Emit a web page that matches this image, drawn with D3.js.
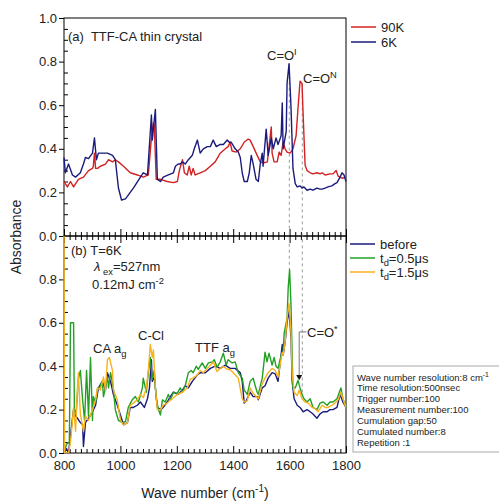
<!DOCTYPE html>
<html>
<head>
<meta charset="utf-8">
<script src="https://cdn.jsdelivr.net/npm/d3@7"></script>
<style>
  body { margin: 0; background: #fff; }
  svg { display: block; font-family: "Liberation Sans", Arial, sans-serif; }
</style>
</head>
<body>
<script>
// ---- data (wave number cm^-1, absorbance) ----
const xMajor = [800, 1000, 1200, 1400, 1600, 1800];
const yMajorTop = [0, 0.2, 0.4, 0.6, 0.8, 1.0];
const yMajorBot = [0, 0.2, 0.4, 0.6, 0.8];

const spec90K = [[800,0.25],[812,0.225],[823,0.25],[834,0.225],[851,0.26],[869,0.27],[887,0.30],[901,0.31],[904,0.32],[908,0.38],[912,0.31],[919,0.31],[929,0.32],[947,0.33],[958,0.35],[972,0.34],[982,0.35],[993,0.34],[1011,0.32],[1035,0.29],[1060,0.28],[1081,0.27],[1099,0.28],[1110,0.45],[1117,0.52],[1120,0.51],[1127,0.26],[1142,0.26],[1166,0.25],[1188,0.245],[1202,0.25],[1209,0.30],[1220,0.35],[1227,0.29],[1237,0.28],[1244,0.32],[1251,0.28],[1258,0.31],[1265,0.28],[1283,0.29],[1301,0.30],[1319,0.32],[1336,0.34],[1354,0.38],[1372,0.40],[1382,0.41],[1389,0.43],[1396,0.39],[1411,0.385],[1425,0.40],[1439,0.43],[1453,0.445],[1460,0.44],[1471,0.41],[1485,0.37],[1496,0.34],[1506,0.335],[1521,0.34],[1528,0.42],[1535,0.50],[1538,0.38],[1545,0.34],[1556,0.34],[1563,0.385],[1570,0.37],[1577,0.43],[1584,0.40],[1591,0.385],[1602,0.38],[1612,0.40],[1623,0.46],[1630,0.59],[1637,0.71],[1644,0.70],[1648,0.555],[1655,0.325],[1662,0.30],[1673,0.29],[1683,0.285],[1697,0.29],[1708,0.285],[1715,0.29],[1726,0.28],[1743,0.285],[1754,0.285],[1765,0.30],[1772,0.275],[1786,0.265],[1800,0.27]];

const spec6K = [[800,0.36],[805,0.29],[816,0.33],[830,0.28],[841,0.27],[858,0.29],[869,0.33],[876,0.36],[887,0.355],[901,0.38],[908,0.45],[915,0.35],[922,0.38],[940,0.38],[954,0.38],[972,0.37],[982,0.35],[993,0.22],[1004,0.165],[1018,0.17],[1046,0.22],[1071,0.27],[1081,0.29],[1096,0.28],[1110,0.555],[1113,0.44],[1124,0.58],[1131,0.26],[1142,0.25],[1152,0.27],[1170,0.28],[1188,0.29],[1195,0.32],[1205,0.33],[1212,0.33],[1220,0.34],[1230,0.33],[1241,0.35],[1255,0.37],[1262,0.40],[1273,0.44],[1283,0.38],[1294,0.40],[1308,0.41],[1319,0.41],[1329,0.44],[1340,0.41],[1354,0.42],[1365,0.42],[1379,0.44],[1386,0.43],[1393,0.43],[1407,0.40],[1418,0.385],[1425,0.36],[1432,0.29],[1439,0.25],[1450,0.25],[1457,0.29],[1464,0.37],[1471,0.33],[1481,0.26],[1489,0.25],[1496,0.33],[1503,0.38],[1506,0.32],[1517,0.49],[1524,0.37],[1535,0.45],[1542,0.40],[1552,0.45],[1559,0.42],[1570,0.46],[1574,0.61],[1577,0.40],[1588,0.48],[1591,0.70],[1598,0.79],[1605,0.59],[1612,0.31],[1620,0.24],[1627,0.225],[1637,0.23],[1644,0.22],[1651,0.225],[1662,0.21],[1673,0.215],[1683,0.21],[1697,0.22],[1708,0.215],[1715,0.215],[1726,0.22],[1736,0.225],[1750,0.23],[1761,0.24],[1768,0.245],[1779,0.27],[1786,0.29],[1793,0.28],[1800,0.25]];

const specBefore = [[800,0.0],[809,0.02],[816,0.0],[830,0.16],[834,0.2],[841,0.17],[848,0.16],[858,0.14],[866,0.13],[869,0.03],[876,0.14],[887,0.16],[901,0.19],[912,0.22],[922,0.30],[936,0.33],[947,0.29],[954,0.37],[965,0.33],[975,0.27],[989,0.22],[1000,0.175],[1011,0.13],[1025,0.14],[1035,0.21],[1046,0.21],[1060,0.22],[1071,0.235],[1085,0.21],[1096,0.25],[1103,0.30],[1110,0.43],[1113,0.33],[1120,0.35],[1131,0.21],[1142,0.20],[1152,0.21],[1166,0.235],[1177,0.26],[1188,0.28],[1205,0.27],[1220,0.29],[1230,0.31],[1241,0.30],[1255,0.33],[1273,0.36],[1283,0.37],[1301,0.37],[1319,0.39],[1336,0.40],[1354,0.39],[1372,0.405],[1389,0.39],[1407,0.39],[1425,0.37],[1432,0.33],[1439,0.23],[1446,0.24],[1460,0.28],[1471,0.26],[1485,0.26],[1489,0.245],[1503,0.30],[1513,0.31],[1524,0.345],[1538,0.37],[1549,0.365],[1559,0.33],[1574,0.50],[1577,0.45],[1584,0.51],[1591,0.60],[1598,0.66],[1605,0.53],[1609,0.33],[1616,0.25],[1627,0.22],[1637,0.21],[1648,0.19],[1662,0.20],[1673,0.19],[1683,0.18],[1697,0.16],[1708,0.18],[1719,0.19],[1733,0.19],[1743,0.20],[1754,0.20],[1768,0.21],[1779,0.27],[1789,0.235],[1800,0.21]];

const spec05us = [[800,0.0],[809,0.04],[819,0.05],[823,0.60],[834,0.60],[837,0.18],[844,0.2],[851,0.34],[858,0.38],[866,0.245],[873,0.15],[880,0.38],[887,0.17],[894,0.44],[901,0.15],[904,0.26],[912,0.23],[919,0.30],[926,0.30],[936,0.33],[940,0.26],[947,0.30],[954,0.35],[958,0.30],[965,0.37],[975,0.30],[982,0.20],[993,0.15],[1007,0.14],[1018,0.145],[1028,0.21],[1042,0.245],[1053,0.26],[1064,0.235],[1078,0.30],[1081,0.345],[1092,0.28],[1099,0.37],[1106,0.44],[1113,0.34],[1120,0.38],[1127,0.25],[1135,0.20],[1142,0.175],[1149,0.245],[1159,0.235],[1170,0.27],[1177,0.245],[1188,0.28],[1202,0.275],[1212,0.30],[1220,0.28],[1230,0.31],[1241,0.37],[1251,0.38],[1258,0.37],[1269,0.40],[1276,0.385],[1290,0.415],[1301,0.39],[1312,0.415],[1326,0.42],[1333,0.43],[1343,0.395],[1354,0.42],[1365,0.46],[1375,0.405],[1382,0.43],[1396,0.415],[1407,0.42],[1418,0.37],[1432,0.345],[1439,0.29],[1450,0.27],[1460,0.33],[1471,0.345],[1478,0.31],[1485,0.28],[1489,0.27],[1503,0.345],[1513,0.465],[1520,0.42],[1527,0.46],[1538,0.405],[1545,0.44],[1552,0.40],[1559,0.39],[1570,0.45],[1577,0.465],[1581,0.555],[1591,0.62],[1595,0.76],[1600,0.845],[1605,0.68],[1609,0.45],[1612,0.30],[1620,0.30],[1630,0.335],[1637,0.30],[1644,0.27],[1651,0.25],[1662,0.235],[1673,0.25],[1683,0.21],[1697,0.20],[1708,0.23],[1719,0.235],[1733,0.22],[1743,0.235],[1754,0.235],[1768,0.25],[1782,0.30],[1789,0.25],[1800,0.21]];

const spec15us = [[800,1.05],[802,0.0],[816,0.0],[823,0.05],[830,0.15],[834,0.21],[841,0.10],[848,0.31],[851,0.37],[858,0.18],[869,0.10],[876,0.17],[887,0.15],[901,0.2],[912,0.245],[919,0.30],[929,0.29],[940,0.35],[947,0.29],[954,0.43],[961,0.44],[972,0.38],[975,0.29],[989,0.245],[1000,0.15],[1011,0.13],[1025,0.14],[1035,0.22],[1046,0.23],[1060,0.245],[1071,0.27],[1081,0.255],[1092,0.30],[1099,0.38],[1106,0.50],[1113,0.44],[1117,0.475],[1124,0.30],[1131,0.2],[1142,0.2],[1152,0.22],[1166,0.23],[1184,0.25],[1202,0.27],[1220,0.28],[1237,0.30],[1248,0.34],[1258,0.345],[1273,0.36],[1283,0.38],[1294,0.37],[1308,0.39],[1319,0.405],[1329,0.42],[1343,0.375],[1354,0.39],[1365,0.40],[1379,0.385],[1389,0.385],[1400,0.37],[1418,0.345],[1432,0.25],[1439,0.235],[1450,0.24],[1460,0.30],[1471,0.275],[1489,0.25],[1503,0.32],[1513,0.345],[1524,0.37],[1538,0.39],[1549,0.38],[1559,0.35],[1574,0.465],[1577,0.45],[1584,0.51],[1591,0.62],[1598,0.69],[1605,0.555],[1609,0.37],[1616,0.28],[1627,0.265],[1634,0.29],[1644,0.25],[1655,0.235],[1666,0.23],[1680,0.21],[1690,0.205],[1701,0.19],[1715,0.22],[1726,0.21],[1736,0.21],[1750,0.22],[1761,0.23],[1772,0.245],[1782,0.28],[1793,0.235],[1800,0.21]];

const infoLines = ["Wave number resolution:8 cm", "Time resolution:500nsec", "Trigger number:100",
  "Measurement number:100", "Cumulation gap:50", "Cumulated number:8", "Repetition :1"];

// ---- layout ----
const W = 499, H = 501;
const colors = { red: "#d42222", navy: "#1b1b7d", green: "#23a023", orange: "#f8b21c" };

const svg = d3.select("body").append("svg").attr("width", W).attr("height", H);

const x = d3.scaleLinear().domain([800, 1800]).range([64, 346]);
const yTop = d3.scaleLinear().domain([0, 1]).range([236, 18]);
const yBot = d3.scaleLinear().domain([0, 1]).range([453, 236]);

const xMinor = d3.range(800, 1801, 20).filter(v => v % 200 !== 0);
const yMinor = d3.range(0.05, 1.0, 0.05).map(v => +v.toFixed(2)).filter(v => Math.round(v * 100) % 20 !== 0);

const defs = svg.append("defs");
defs.append("clipPath").attr("id", "clipTop").append("rect")
  .attr("x", 63).attr("y", 18).attr("width", 284).attr("height", 218);
defs.append("clipPath").attr("id", "clipBot").append("rect")
  .attr("x", 63).attr("y", 236).attr("width", 284).attr("height", 217);

function clean(g) {
  g.select(".domain").remove();
  g.selectAll("text").attr("font-size", 13).attr("fill", "#222")
    .attr("font-family", '"Liberation Sans", Arial, sans-serif');
  g.selectAll("line").attr("stroke", "#000");
}

// frames
svg.append("rect").attr("x", 64).attr("y", 18).attr("width", 282).attr("height", 218)
  .attr("fill", "none").attr("stroke", "#000");
svg.append("rect").attr("x", 64).attr("y", 236).attr("width", 282).attr("height", 217)
  .attr("fill", "none").attr("stroke", "#000");

// x ticks: top panel bottom edge (up), bottom panel top edge (down), bottom panel bottom edge (up)
svg.append("g").attr("transform", "translate(0,236)")
  .call(d3.axisTop(x).tickValues(xMajor).tickSize(7).tickFormat("")).call(clean);
svg.append("g").attr("transform", "translate(0,236)")
  .call(d3.axisTop(x).tickValues(xMinor).tickSize(4).tickFormat("")).call(clean);
svg.append("g").attr("transform", "translate(0,236)")
  .call(d3.axisBottom(x).tickValues(xMajor).tickSize(7).tickFormat("")).call(clean);
svg.append("g").attr("transform", "translate(0,236)")
  .call(d3.axisBottom(x).tickValues(xMinor).tickSize(4).tickFormat("")).call(clean);
svg.append("g").attr("transform", "translate(0,453)")
  .call(d3.axisTop(x).tickValues(xMajor).tickSize(7).tickFormat("")).call(clean);
svg.append("g").attr("transform", "translate(0,453)")
  .call(d3.axisTop(x).tickValues(xMinor).tickSize(4).tickFormat("")).call(clean);
svg.append("g").attr("transform", "translate(0,453)")
  .call(d3.axisBottom(x).tickValues(xMajor).tickSize(0).tickPadding(8).tickFormat(d3.format("d")))
  .call(clean);

// y ticks: majors outward, minors inward
svg.append("g").attr("transform", "translate(64,0)")
  .call(d3.axisLeft(yTop).tickValues(yMajorTop).tickSize(5).tickPadding(2).tickFormat(d3.format(".1f")))
  .call(clean);
svg.append("g").attr("transform", "translate(64,0)")
  .call(d3.axisRight(yTop).tickValues(yMinor).tickSize(4).tickFormat("")).call(clean);
svg.append("g").attr("transform", "translate(64,0)")
  .call(d3.axisLeft(yBot).tickValues(yMajorBot).tickSize(5).tickPadding(2).tickFormat(d3.format(".1f")))
  .call(clean);
svg.append("g").attr("transform", "translate(64,0)")
  .call(d3.axisRight(yBot).tickValues(yMinor).tickSize(4).tickFormat("")).call(clean);

// guide lines
const guides = [
  { wn: 1599, from: yTop(0.79), to: yBot(0.845) },
  { wn: 1645, from: yTop(0.70), to: yBot(0.27) }
];
svg.selectAll(".guide").data(guides).join("line")
  .attr("x1", d => x(d.wn)).attr("x2", d => x(d.wn))
  .attr("y1", d => d.from).attr("y2", d => d.to)
  .attr("stroke", "#9a9a9a").attr("stroke-width", 1).attr("stroke-dasharray", "3,3");

// spectra
const lineTop = d3.line().x(d => x(d[0])).y(d => yTop(d[1]));
const lineBot = d3.line().x(d => x(d[0])).y(d => yBot(d[1]));

const gTop = svg.append("g").attr("clip-path", "url(#clipTop)");
[[spec90K, colors.red], [spec6K, colors.navy]].forEach(([data, c]) => {
  gTop.append("path").datum(data).attr("d", lineTop)
    .attr("fill", "none").attr("stroke", c).attr("stroke-width", 1.4).attr("stroke-linejoin", "round");
});
const gBot = svg.append("g").attr("clip-path", "url(#clipBot)");
[[specBefore, colors.navy], [spec05us, colors.green], [spec15us, colors.orange]].forEach(([data, c]) => {
  gBot.append("path").datum(data).attr("d", lineBot)
    .attr("fill", "none").attr("stroke", c).attr("stroke-width", 1.4).attr("stroke-linejoin", "round");
});

// C=O* arrow
const arrowX = x(1634);
svg.append("polyline")
  .attr("points", [[x(1660), yBot(0.558)], [arrowX, yBot(0.558)], [arrowX, yBot(0.355)]].join(" "))
  .attr("fill", "none").attr("stroke", "#777").attr("stroke-width", 1);
svg.append("path")
  .attr("d", `M${arrowX - 3},${yBot(0.36)} L${arrowX + 3},${yBot(0.36)} L${arrowX},${yBot(0.335)} Z`)
  .attr("fill", "#111");

// text helper: parts = [[text, shift]] where shift: 0 normal, 1 superscript, -1 subscript
function rich(tx, ty, parts, size = 13, anchor = "start") {
  const t = svg.append("text").attr("x", tx).attr("y", ty).attr("font-size", size)
    .attr("fill", "#222").attr("text-anchor", anchor).style("white-space", "pre");
  let cur = 0;
  parts.forEach(([s, sh, style]) => {
    const off = sh === 1 ? -size * 0.42 : sh === -1 ? size * 0.3 : 0;
    const sp = t.append("tspan").attr("dy", off - cur).text(s);
    if (sh !== 0) sp.attr("font-size", size * 0.72);
    if (style) sp.attr("font-style", style);
    cur = off;
  });
  return t;
}

rich(68, 41, [["(a)  TTF-CA thin crystal", 0]]);
rich(267, 60, [["C=O", 0], ["I", 1]]);
rich(303, 83, [["C=O", 0], ["N", 1]]);
rich(71, 255, [["(b) T=6K", 0]]);
rich(94, 271, [["λ", 0, "italic"], [" ex", -1], ["=527nm", 0]]);
rich(92, 289, [["0.12mJ cm", 0], ["-2", 1]]);
rich(93, 353, [["CA a", 0], ["g", -1]]);
rich(138, 340, [["C-Cl", 0]]);
rich(195, 352, [["TTF a", 0], ["g", -1]]);
rich(307, 337, [["C=O", 0], ["*", 1]]);

// axis titles
svg.append("text").attr("transform", "translate(21,237) rotate(-90)")
  .attr("text-anchor", "middle").attr("font-size", 14).attr("fill", "#222").text("Absorbance");
rich(205, 498, [["Wave number (cm", 0], ["-1", 1], [")", 0]], 14, "middle");

// legends
const legTop = [["90K", colors.red, 27], ["6K", colors.navy, 42]];
legTop.forEach(([lab, c, ly]) => {
  svg.append("line").attr("x1", 351).attr("x2", 376).attr("y1", ly).attr("y2", ly)
    .attr("stroke", c).attr("stroke-width", 1.5);
  rich(381, ly + 4.5, [[lab, 0]]);
});
const legBot = [[[["before", 0]], colors.navy, 244], [[["t", 0], ["d", -1], ["=0.5μs", 0]], colors.green, 258],
  [[["t", 0], ["d", -1], ["=1.5μs", 0]], colors.orange, 272]];
legBot.forEach(([parts, c, ly]) => {
  svg.append("line").attr("x1", 350).attr("x2", 375).attr("y1", ly).attr("y2", ly)
    .attr("stroke", c).attr("stroke-width", 1.5);
  rich(380, ly + 4.5, parts);
});

// info box
svg.append("rect").attr("x", 353).attr("y", 366).attr("width", 170).attr("height", 86)
  .attr("fill", "#fff").attr("stroke", "#aaa");
infoLines.forEach((s, i) => {
  const parts = i === 0 ? [[s, 0], ["-1", 1]] : [[s, 0]];
  rich(357, 380.5 + i * 10.9, parts, 9.5);
});
</script>
</body>
</html>
